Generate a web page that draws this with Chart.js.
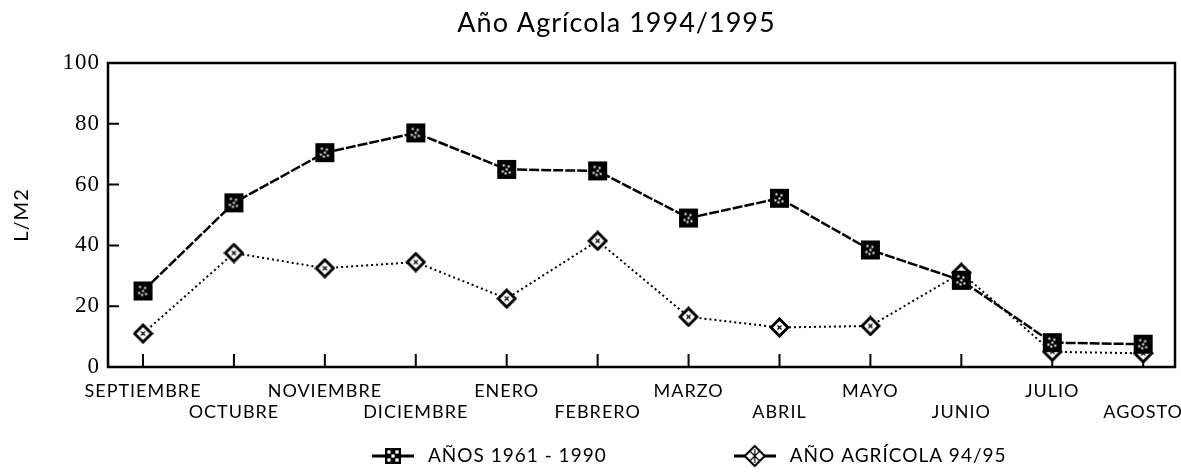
<!DOCTYPE html>
<html><head><meta charset="utf-8">
<script src="https://cdn.jsdelivr.net/npm/chart.js@4/dist/chart.umd.min.js"></script>
<style>html,body{margin:0;padding:0;background:#fff}</style>
</head><body>
<canvas id="c" width="1181" height="475"></canvas>
<script>
const TITLE = 'Año Agrícola 1994/1995';
const MONTHS = ['SEPTIEMBRE','OCTUBRE','NOVIEMBRE','DICIEMBRE','ENERO','FEBRERO','MARZO','ABRIL','MAYO','JUNIO','JULIO','AGOSTO'];
const NORMAL_1961_1990 = [25, 54, 70.5, 77, 65, 64.5, 49, 55.5, 38.5, 28.5, 8, 7.5];
const AGRICOLA_94_95 = [11, 37.5, 32.5, 34.5, 22.5, 41.5, 16.5, 13, 13.5, 31, 5, 4.5];
const SERIES_NAMES = ['AÑOS 1961 - 1990', 'AÑO AGRÍCOLA 94/95'];
const Y_TICKS = [0, 20, 40, 60, 80, 100];
const Y_TITLE = 'L/M2';

function mk(w, h, fn) { const c = document.createElement('canvas'); c.width = w; c.height = h; fn(c.getContext('2d'), w, h); return c; }

function drawSquare(g, cx, cy, s, legend) {
  g.fillStyle = '#000';
  g.fillRect(cx - s / 2, cy - s / 2, s, s);
  g.fillStyle = '#fff';
  if (legend) {
    const step = s / 4;
    for (let i = 0; i < 3; i++) for (let j = 0; j < 3; j++) {
      if ((i + j) % 2 === 0) g.fillRect(cx - s / 2 + step * (i + 0.6), cy - s / 2 + step * (j + 0.6), step * 0.8, step * 0.8);
    }
  } else {
    [[-3, -4], [2, -3], [0, 0], [-4, 2], [3, 3], [-1, 4]].forEach(p => g.fillRect(cx + p[0] - 1, cy + p[1] - 1, 2, 2));
  }
}
function drawDiamond(g, cx, cy, r, lw, legend) {
  g.beginPath();
  g.moveTo(cx, cy - r); g.lineTo(cx + r, cy); g.lineTo(cx, cy + r); g.lineTo(cx - r, cy); g.closePath();
  g.fillStyle = '#fff'; g.fill();
  g.lineWidth = lw; g.strokeStyle = '#000'; g.stroke();
  g.lineWidth = 1.2;
  g.beginPath();
  if (legend) {
    g.moveTo(cx - r / 2, cy - r / 2); g.lineTo(cx + r / 2, cy + r / 2);
    g.moveTo(cx + r / 2, cy - r / 2); g.lineTo(cx - r / 2, cy + r / 2);
    g.moveTo(cx, cy - r * 0.7); g.lineTo(cx, cy + r * 0.7);
  } else {
    g.moveTo(cx - 2, cy - 2); g.lineTo(cx + 2, cy + 2);
    g.moveTo(cx + 2, cy - 2); g.lineTo(cx - 2, cy + 2);
  }
  g.stroke();
}

const SQ = mk(21, 21, g => drawSquare(g, 10.5, 10.5, 19, false));
const DM = mk(21, 21, g => drawDiamond(g, 10.5, 10.5, 8.5, 3, false));
const LEG_SQ = mk(42, 20, (g, w, h) => { g.fillStyle = '#000'; g.fillRect(0, h / 2 - 1.5, w, 3); drawSquare(g, w / 2, h / 2, 16, true); });
const LEG_DM = mk(42, 24, (g, w, h) => { g.fillStyle = '#000'; g.fillRect(0, h / 2 - 1.5, w, 3); drawDiamond(g, w / 2, h / 2, 10, 2, true); });
const LEGEND_ICONS = [LEG_SQ, LEG_DM];

const spacing = {
  id: 'spacing',
  beforeUpdate(c) { c.ctx.letterSpacing = '1px'; },
  beforeDraw(c) { c.ctx.letterSpacing = '1px'; }
};
const shift = {
  id: 'shift',
  afterLayout(c) { const t = c.titleBlock; if (t) { t.left += 26; t.right += 26; } }
};
const frame = {
  id: 'frame',
  beforeDatasetsDraw(c) {
    const { ctx, chartArea: a, scales: { x, y } } = c;
    ctx.save();
    ctx.strokeStyle = '#000';
    ctx.lineWidth = 2.5;
    ctx.strokeRect(a.left, a.top, a.right - a.left, a.bottom - a.top);
    ctx.lineWidth = 2;
    ctx.beginPath();
    y.ticks.forEach(t => {
      if (t.value <= 0 || t.value >= 100) return;
      const py = y.getPixelForValue(t.value);
      ctx.moveTo(a.left, py); ctx.lineTo(a.left + 11, py);
    });
    x.ticks.forEach(t => {
      const px = x.getPixelForValue(t.value);
      ctx.moveTo(px, a.bottom); ctx.lineTo(px, a.bottom - 13);
    });
    ctx.stroke();
    ctx.restore();
  }
};
const customLegend = {
  id: 'customLegend',
  afterDraw(c) {
    const ctx = c.ctx, a = c.chartArea;
    ctx.save();
    ctx.letterSpacing = '1px';
    ctx.font = '19px Lato';
    ctx.fillStyle = '#000';
    ctx.textBaseline = 'middle';
    ctx.textAlign = 'left';
    let x = a.left + 264;
    const yy = 456;
    c.data.datasets.forEach((ds, i) => {
      const img = LEGEND_ICONS[i];
      ctx.drawImage(img, x, Math.round(yy - img.height / 2));
      x += img.width + 14;
      ctx.fillText(ds.label, x, yy);
      x += ctx.measureText(ds.label).width + 127;
    });
    ctx.restore();
  }
};

new Chart(document.getElementById('c'), {
  type: 'line',
  data: {
    datasets: [
      {
        label: SERIES_NAMES[0],
        data: NORMAL_1961_1990.map((v, i) => ({ x: i, y: v })),
        borderColor: '#000', borderWidth: 2.5, borderDash: [10, 2],
        pointStyle: SQ, pointRadius: 10, tension: 0
      },
      {
        label: SERIES_NAMES[1],
        data: AGRICOLA_94_95.map((v, i) => ({ x: i, y: v })),
        borderColor: '#000', borderWidth: 2, borderDash: [2, 3],
        pointStyle: DM, pointRadius: 9, tension: 0
      }
    ]
  },
  options: {
    responsive: false,
    animation: false,
    devicePixelRatio: 1,
    events: [],
    layout: { autoPadding: false, padding: { top: 6, left: 6, right: 6, bottom: 44 } },
    plugins: {
      legend: { display: false },
      tooltip: { enabled: false },
      title: {
        display: true, text: TITLE, color: '#000',
        font: { family: 'Lato', size: 27, weight: 'normal' },
        padding: { top: 1, bottom: 23.6 }
      }
    },
    scales: {
      x: {
        type: 'linear', min: -0.385, max: 11.35,
        grid: { display: false, drawTicks: false },
        border: { display: false },
        afterFit(s) { s.height = 64; s.paddingLeft = 0; s.paddingRight = 0; },
        ticks: {
          stepSize: 1, includeBounds: false, autoSkip: false, maxRotation: 0, minRotation: 0,
          padding: 13, color: '#000',
          font: { family: 'Lato', size: 18 },
          callback: v => Number.isInteger(v) && MONTHS[v] ? (v % 2 ? ['', MONTHS[v]] : MONTHS[v]) : ''
        }
      },
      y: {
        min: 0, max: 100,
        afterBuildTicks(s) { s.ticks = Y_TICKS.map(v => ({ value: v })); },
        grid: { display: false, drawTicks: false },
        border: { display: false },
        afterFit(s) { s.width = 102; },
        ticks: { padding: 8, color: '#000', font: { family: 'Liberation Serif', size: 23 } },
        title: {
          display: true, text: Y_TITLE, color: '#000',
          font: { family: 'Lato', size: 20 },
          padding: { top: 4, bottom: 0 }
        }
      }
    }
  },
  plugins: [spacing, shift, frame, customLegend]
});
</script>
</body></html>
